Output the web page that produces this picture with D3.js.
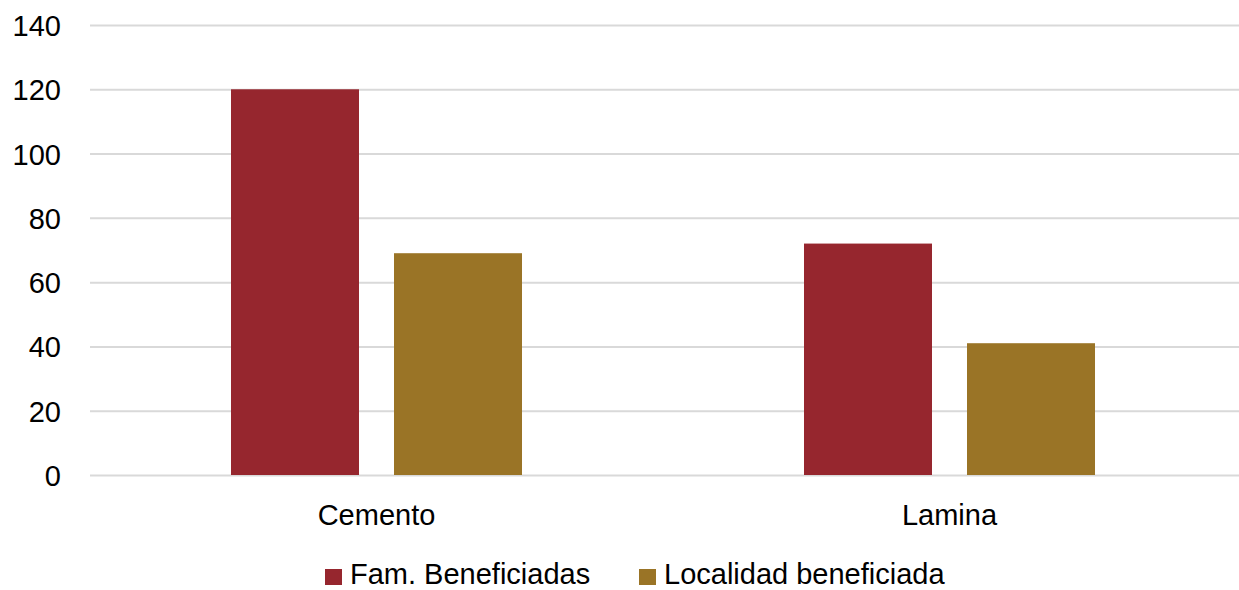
<!DOCTYPE html>
<html><head><meta charset="utf-8">
<script src="https://cdn.jsdelivr.net/npm/d3@7"></script>
<style>body{margin:0;background:#fff;} svg{display:block;} text{font-family:"Liberation Sans",Arial,sans-serif;fill:#000;}</style>
</head><body>
<svg id="c" width="1239" height="590"></svg>
<script>
const categories = ["Cemento", "Lamina"];
const seriesNames = ["Fam. Beneficiadas", "Localidad beneficiada"];
const famBeneficiadas = [120, 72];
const localidadBeneficiada = [69, 41];
const yTicks = [0, 20, 40, 60, 80, 100, 120, 140];
const colors = ["#96262e", "#9a7426"];

const seriesValues = [famBeneficiadas, localidadBeneficiada];
const svg = d3.select("#c");
const m = {left: 90, right: 3, top: 25, bottom: 115};
const W = 1239, H = 590;
const FS = "29px";
const x0 = d3.scaleBand().domain(categories).range([m.left, W - m.right]).padding(0);
const x1 = d3.scaleBand().domain(seriesNames).range([0, x0.bandwidth()]).paddingInner(35/163).paddingOuter(0.865);
const y = d3.scaleLinear().domain([0, 140]).range([H - m.bottom, m.top]);

// gridlines
svg.append("g").selectAll("line").data(yTicks).join("line")
  .attr("x1", m.left).attr("x2", W).attr("y1", d => y(d) + 0.5).attr("y2", d => y(d) + 0.5)
  .attr("stroke", "#d9d9d9").attr("stroke-width", 2);

// y axis labels
const yAxis = d3.axisLeft(y).tickValues(yTicks).tickSize(0).tickPadding(0);
const gy = svg.append("g").attr("transform", `translate(61,0)`).call(yAxis);
gy.select(".domain").remove();
gy.selectAll("text").style("font-size", FS).style("font-family", '"Liberation Sans",Arial,sans-serif').attr("fill", "#000").attr("dy", "0.36em");

// bars
const groups = svg.append("g").selectAll("g").data(categories).join("g")
  .attr("transform", d => `translate(${x0(d)},0)`);
groups.selectAll("rect").data((d, i) => seriesNames.map((s, j) => ({s, v: seriesValues[j][i], j})))
  .join("rect")
  .attr("x", d => x1(d.s)).attr("width", x1.bandwidth())
  .attr("y", d => y(d.v)).attr("height", d => y(0) - y(d.v))
  .attr("fill", d => colors[d.j]);

// x axis labels
const xAxis = d3.axisBottom(x0).tickSize(0).tickPadding(0);
const gx = svg.append("g").attr("transform", `translate(0,${y(0)})`).call(xAxis);
gx.select(".domain").remove();
gx.selectAll("text").style("font-size", FS).style("font-family", '"Liberation Sans",Arial,sans-serif').attr("fill", "#000").attr("y", 50).attr("dy", 0);

// legend
const legendX = [325, 639];
const lg = svg.append("g").selectAll("g").data(seriesNames).join("g")
  .attr("transform", (d, i) => `translate(${legendX[i]},569)`);
lg.append("rect").attr("width", 17).attr("height", 16).attr("fill", (d, i) => colors[i]);
lg.append("text").attr("x", 25).attr("y", 15).style("font-size", FS).text(d => d);
</script>
</body></html>
